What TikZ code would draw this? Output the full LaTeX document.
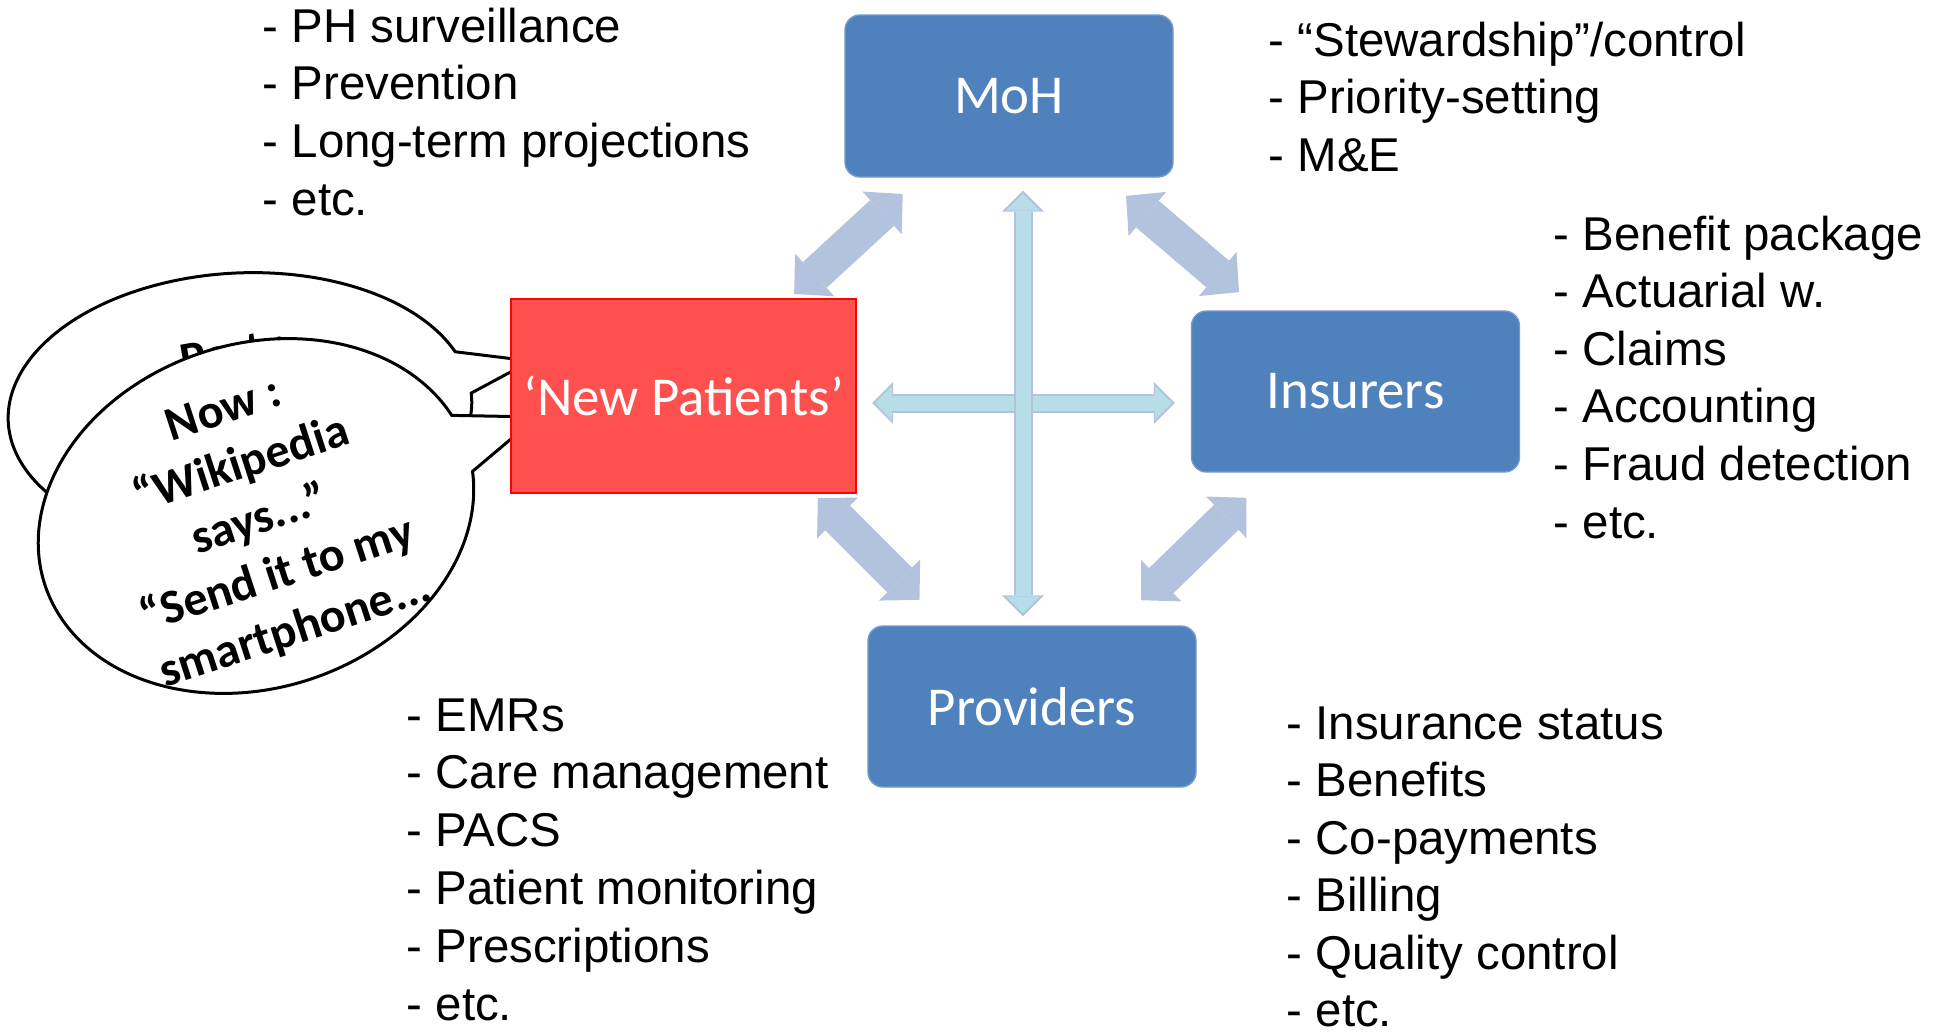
\documentclass[tikz,border=0pt]{standalone}
\usepackage{fontspec}
\setmainfont{Liberation Sans}
\newfontfamily\calibri{Carlito}
\usetikzlibrary{arrows.meta,shapes.callouts,calc}

\definecolor{boxblue}{RGB}{79,129,189}
\definecolor{boxred}{RGB}{255,80,80}
\definecolor{armgray}{RGB}{179,194,221}
\definecolor{armcyan}{RGB}{183,221,232}

\begin{document}
\begin{tikzpicture}[
    bluebox/.style={fill=boxblue, draw=boxblue!80!white, rounded corners=1.5mm,
        minimum width=3.28cm, minimum height=1.61cm, text=white,
        font=\calibri\fontsize{15.6pt}{18pt}\selectfont},
    redbox/.style={fill=boxred, draw=red, line width=0.2mm,
        minimum width=3.45cm, minimum height=1.94cm, text=white,
        font=\calibri\fontsize{15.6pt}{18pt}\selectfont},
    listtext/.style={anchor=base west, inner sep=0pt,
        font=\fontsize{13.5pt}{16pt}\selectfont},
    dblarrow/.style={draw=armgray, line width=3.5mm,
        {Triangle[width=5.8mm,length=2.8mm,line width=0pt]}-{Triangle[width=5.8mm,length=2.8mm,line width=0pt]}},
    outerarrow/.style={draw=armgray, line width=1.9mm,
        {Triangle[width=4.2mm,length=2.1mm,line width=0pt]}-{Triangle[width=4.2mm,length=2.1mm,line width=0pt]}},
    innerarrow/.style={draw=armcyan, line width=1.5mm,
        {Triangle[width=3.4mm,length=1.7mm,line width=0pt]}-{Triangle[width=3.4mm,length=1.7mm,line width=0pt]}},
    bubble/.style={ellipse callout, draw=black, fill=white, line width=0.3mm, inner sep=0pt},
    bubbletext/.style={font=\calibri\bfseries\fontsize{13.7pt}{16.5pt}\selectfont,
        align=center, inner sep=0pt}
]
\useasboundingbox (0,0) rectangle (19.37,-10.33);

% speech bubbles
\node[bubble, minimum width=4.64cm, minimum height=2.74cm, rotate=3,
    callout absolute pointer={(5.31,-3.61)}, callout pointer arc=18] (pastcall) at (2.40,-4.10) {};
\node[bubbletext, rotate=10, anchor=base west] (pasttext) at (1.83,-3.77) {Past :};
\node[bubble, minimum width=4.44cm, minimum height=3.44cm, rotate=18,
    callout absolute pointer={(5.37,-4.17)}, callout pointer arc=20] (nowcall) at (2.56,-5.16) {};
\node[bubbletext, rotate=18] (nowtext) at (2.60,-5.22)
    {Now :\\“Wikipedia\\says...”\\“Send it to my\\smartphone...};

% actors
\node[redbox] (np) at (6.835,-3.96) {‘New Patients’};
\node[bluebox, minimum height=1.62cm] (moh) at (10.09,-0.96) {MoH};
\node[bluebox] (ins) at (13.555,-3.915) {Insurers};
\node[bluebox] (prov) at (10.32,-7.065) {Providers};
\coordinate (hub) at (10.23,-4.03);

% links
\draw[dblarrow, shorten <=2.4mm, shorten >=0.6mm] (moh) -- (np);
\draw[dblarrow, shorten <=2.8mm, shorten >=2.8mm] (moh) -- (ins);
\draw[dblarrow, shorten <=0.6mm, shorten >=3.6mm] (np.-37.7) -- (prov.137);
\draw[dblarrow, shorten <=3.6mm, shorten >=3.6mm] (ins) -- (prov);

\draw[outerarrow, shorten <=1.5mm, shorten >=1.6mm] (np.east |- hub) -- (ins.west |- hub);
\draw[innerarrow, shorten <=1.8mm, shorten >=1.9mm] (np.east |- hub) -- (ins.west |- hub);
\draw[outerarrow, shorten <=1.3mm, shorten >=0.9mm] (hub |- moh.south) -- (hub |- prov.north);
\draw[innerarrow, shorten <=1.6mm, shorten >=1.2mm] (hub |- moh.south) -- (hub |- prov.north);

% task lists
\foreach \t [count=\i from 0] in {- PH surveillance, - Prevention, - Long-term projections, - etc.}
    \node[listtext] (phlist\i) at (2.62,{-0.42-0.577*\i}) {\t};
\foreach \t [count=\i from 0] in {- “Stewardship”/control, - Priority-setting, - M\&E}
    \node[listtext] (mohlist\i) at (12.68,{-0.56-0.575*\i}) {\t};
\foreach \t [count=\i from 0] in {- Benefit package, - Actuarial w., - Claims, - Accounting, - Fraud detection, - etc.}
    \node[listtext] (inslist\i) at (15.53,{-2.50-0.576*\i}) {\t};
\foreach \t [count=\i from 0] in {- EMRs, - Care management, - PACS, - Patient monitoring, - Prescriptions, - etc.}
    \node[listtext] (provlist\i) at (4.06,{-7.31-0.578*\i}) {\t};
\foreach \t [count=\i from 0] in {- Insurance status, - Benefits, - Co-payments, - Billing, - Quality control, - etc.}
    \node[listtext] (paylist\i) at (12.86,{-7.39-0.575*\i}) {\t};

\end{tikzpicture}
\end{document}
